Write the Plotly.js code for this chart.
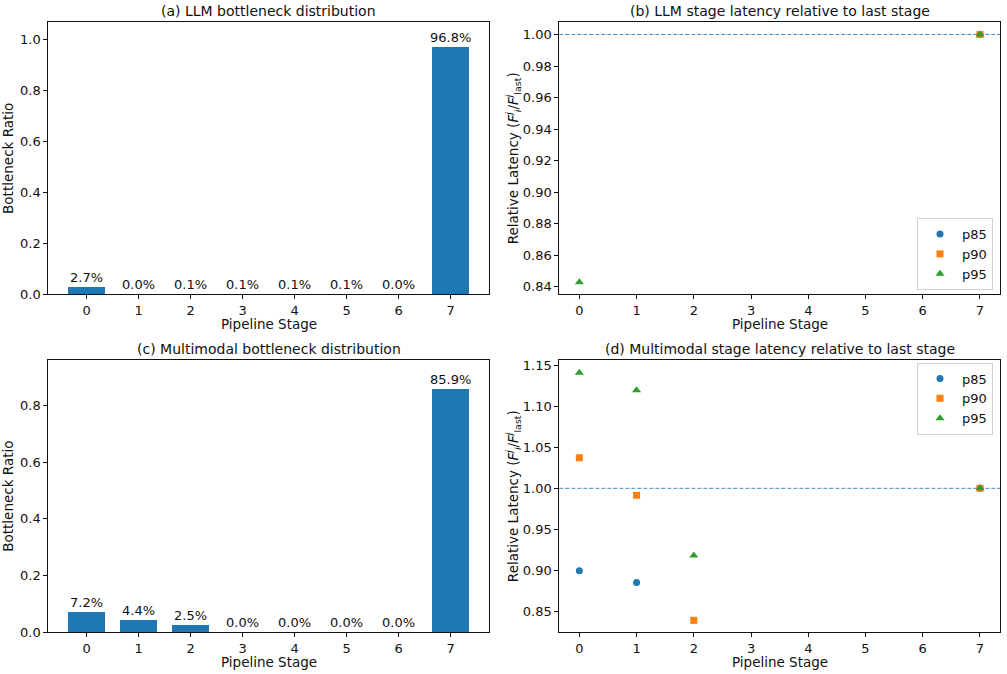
<!DOCTYPE html>
<html>
<head>
<meta charset="utf-8">
<script src="https://cdn.plot.ly/plotly-3.0.1.min.js"></script>
<style>html,body{margin:0;padding:0;background:#fff;}#chart{width:1007px;height:674px;}</style>
</head>
<body>
<div id="chart"></div>
<script>
// ---- data ----
const stages = [0, 1, 2, 3, 4, 5, 6, 7];
const llmBottleneck = [0.027, 0.0004, 0.001, 0.001, 0.001, 0.001, 0.0003, 0.968];
const mmBottleneck = [0.072, 0.044, 0.025, 0.0002, 0.0002, 0.0002, 0.0002, 0.859];

const llmP85 = [null, null, null, null, null, null, null, 1.0];
const llmP90 = [null, null, null, null, null, null, null, 1.0];
const llmP95 = [0.843, null, null, null, null, null, null, 1.0];

const mmP85 = [0.8995, 0.885, null, null, null, null, null, 1.0];
const mmP90 = [1.0373, 0.9915, 0.839, null, null, null, null, 1.0];
const mmP95 = [1.141, 1.1195, 0.918, null, null, null, null, 1.0];

const seriesNames = ['p85', 'p90', 'p95'];
const colors = ['#1f77b4', '#ff7f0e', '#2ca02c'];
const symbols = ['circle', 'square', 'triangle-up'];
const symbolSizes = [7, 7, 8];

const titles = ['(a) LLM bottleneck distribution', '(b) LLM stage latency relative to last stage',
                '(c) Multimodal bottleneck distribution', '(d) Multimodal stage latency relative to last stage'];
const xTitle = 'Pipeline Stage';
const yBarTitle = 'Bottleneck Ratio';
const yLatTitle = 'Relative Latency (<i>F</i><sup><i>j</i></sup><sub><i>i</i></sub>/<i>F</i><sup><i>j</i></sup><sub>last</sub>)';

// ---- layout geometry ----
const W = 1007, H = 674;
const colDom = [[48.3 / W, 489 / W], [559.3 / W, 1000 / W]];
const rowDom = [[1 - 294.3 / H, 1 - 22.3 / H], [1 - 632.3 / H, 1 - 360 / H]];
const FONT = 'DejaVu Sans, Verdana, sans-serif';
const INK = '#111';

const traces = [];
function barTrace(vals, xa, ya) {
  return {
    type: 'bar', x: stages, y: vals, xaxis: xa, yaxis: ya, width: 0.72,
    marker: {color: '#1f77b4', line: {width: 0}},
    showlegend: false, hoverinfo: 'x+y'
  };
}
traces.push(barTrace(llmBottleneck, 'x', 'y'));
traces.push(barTrace(mmBottleneck, 'x3', 'y3'));

[[llmP85, llmP90, llmP95], [mmP85, mmP90, mmP95]].forEach((group, gi) => {
  group.forEach((vals, si) => {
    traces.push({
      type: 'scatter', mode: 'markers', x: stages, y: vals,
      xaxis: gi === 0 ? 'x2' : 'x4', yaxis: gi === 0 ? 'y2' : 'y4',
      name: seriesNames[si], legend: gi === 0 ? 'legend' : 'legend2',
      marker: {color: colors[si], symbol: symbols[si], size: symbolSizes[si], line: {width: 0}},
      cliponaxis: false
    });
  });
});

function xAxis(dom, anchor) {
  return {
    domain: dom, anchor: anchor, range: [-0.735, 7.735],
    tickvals: stages, ticks: 'outside', ticklen: 4, tickcolor: INK, tickwidth: 1,
    showline: true, mirror: true, linecolor: INK, linewidth: 1, showgrid: false, zeroline: false,
    tickfont: {family: FONT, size: 13, color: INK}
  };
}
function yAxis(dom, anchor, range, dtick, fmt, title, standoff) {
  return {
    domain: dom, anchor: anchor, range: range, dtick: dtick, tick0: 0, tickformat: fmt,
    ticks: 'outside', ticklen: 4, tickcolor: INK, tickwidth: 1,
    showline: true, mirror: true, linecolor: INK, linewidth: 1, showgrid: false, zeroline: false,
    tickfont: {family: FONT, size: 13, color: INK},
    title: {text: title, font: {family: FONT, size: 13.5, color: INK}, standoff: standoff}
  };
}

// bar value labels, built from the data arrays
const barLabels = [];
[[llmBottleneck, 'x', 'y'], [mmBottleneck, 'x3', 'y3']].forEach(([vals, xr, yr]) => {
  vals.forEach((v, i) => {
    barLabels.push({
      xref: xr, yref: yr, x: stages[i], y: v, text: (v * 100).toFixed(1) + '%',
      xanchor: 'center', yanchor: 'bottom', yshift: 0, showarrow: false,
      font: {family: FONT, size: 13, color: INK}
    });
  });
});

// x-axis titles placed under each subplot
const xTitles = [0, 1, 2, 3].map(i => {
  const c = colDom[i % 2], r = rowDom[Math.floor(i / 2)];
  return {text: xTitle, xref: 'paper', yref: 'paper', x: (c[0] + c[1]) / 2, y: r[0],
          xanchor: 'center', yanchor: 'top', yshift: -20, showarrow: false,
          font: {family: FONT, size: 13.5, color: INK}};
});

const legendCommon = {
  x: 993 / W, xanchor: 'right',
  bgcolor: 'rgba(255,255,255,0.8)', bordercolor: '#d0d0d0', borderwidth: 1,
  font: {family: FONT, size: 13, color: INK}, tracegroupgap: 0, itemwidth: 34
};

const layout = {
  width: W, height: H, margin: {l: 0, r: 0, t: 0, b: 0},
  paper_bgcolor: '#fff', plot_bgcolor: '#fff',
  font: {family: FONT, color: INK},
  bargap: 0,
  xaxis: xAxis(colDom[0], 'y'),
  yaxis: yAxis(rowDom[0], 'x', [0, 1.066], 0.2, '.1f', yBarTitle, 5),
  xaxis2: Object.assign(xAxis(colDom[1], 'y2'), {range: [-0.35, 7.35]}),
  yaxis2: yAxis(rowDom[0], 'x2', [0.8353, 1.0077], 0.02, '.2f', yLatTitle, 0),
  xaxis3: xAxis(colDom[0], 'y3'),
  yaxis3: yAxis(rowDom[1], 'x3', [0, 0.9597], 0.2, '.1f', yBarTitle, 5),
  xaxis4: Object.assign(xAxis(colDom[1], 'y4'), {range: [-0.35, 7.35]}),
  yaxis4: yAxis(rowDom[1], 'x4', [0.8244, 1.1565], 0.05, '.2f', yLatTitle, 0),
  legend: Object.assign({}, legendCommon, {y: 1 - 290 / H, yanchor: 'bottom'}),
  legend2: Object.assign({}, legendCommon, {y: 1 - 362.5 / H, yanchor: 'top'}),
  shapes: [
    {type: 'line', xref: 'x2 domain', yref: 'y2', x0: 0, x1: 1, y0: 1, y1: 1,
     line: {color: 'rgba(31,119,180,0.85)', width: 1, dash: '4px,2px'}, layer: 'below'},
    {type: 'line', xref: 'x4 domain', yref: 'y4', x0: 0, x1: 1, y0: 1, y1: 1,
     line: {color: 'rgba(31,119,180,0.85)', width: 1, dash: '4px,2px'}, layer: 'below'}
  ],
  annotations: titles.map((t, i) => {
    const c = colDom[i % 2], r = rowDom[Math.floor(i / 2)];
    return {text: t, xref: 'paper', yref: 'paper', x: (c[0] + c[1]) / 2, y: r[1],
            xanchor: 'center', yanchor: 'bottom', yshift: 1, showarrow: false,
            font: {family: FONT, size: 14, color: INK}};
  }).concat(xTitles, barLabels)
};

Plotly.newPlot('chart', traces, layout, {displayModeBar: false, staticPlot: true});
</script>
</body>
</html>
